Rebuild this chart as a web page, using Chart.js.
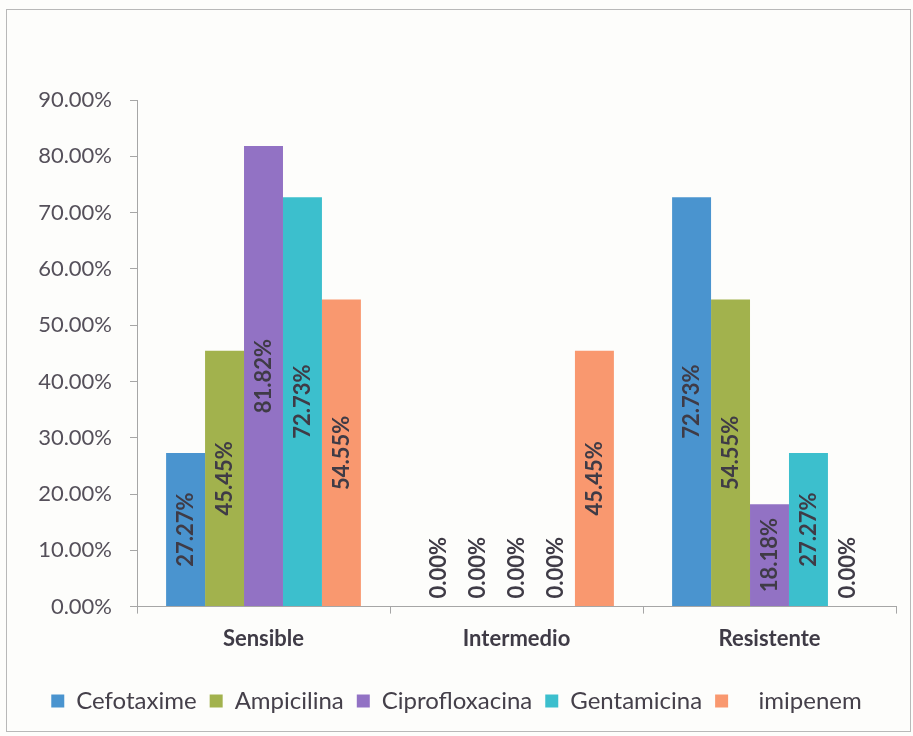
<!DOCTYPE html>
<html>
<head>
<meta charset="utf-8">
<script src="https://cdn.jsdelivr.net/npm/chart.js@4.4.1/dist/chart.umd.min.js"></script>
<style>
  body { margin: 0; background: #fdfdfb; }
  #wrap {
    position: absolute; left: 6px; top: 9px;
    width: 903px; height: 721px;
    border: 1px solid #b8b8b8;
    background: #fdfdfb;
  }
</style>
</head>
<body>
<div id="wrap"><canvas id="sensChart"></canvas></div>
<script>
// Susceptibilidad por antibiotico (%)
var categories = ['Sensible', 'Intermedio', 'Resistente'];
var cefotaxime = [27.27, 0, 72.73];
var ampicilina = [45.45, 0, 54.55];
var ciprofloxacina = [81.82, 0, 18.18];
var gentamicina = [72.73, 0, 27.27];
var imipenem = [54.55, 45.45, 0];
var yTicks = [0, 10, 20, 30, 40, 50, 60, 70, 80, 90];

var FONT = 'Lato, "Open Sans", sans-serif';

// rotated value labels inside each bar
var barLabels = {
    id: 'barLabels',
    afterDatasetsDraw: function(chart) {
        var ctx = chart.ctx;
        ctx.save();
        ctx.font = 'bold 22px ' + FONT;
        ctx.fillStyle = '#3f3b46';
        ctx.textBaseline = 'middle';
        chart.data.datasets.forEach(function(ds, i) {
            var meta = chart.getDatasetMeta(i);
            meta.data.forEach(function(bar, j) {
                var v = ds.data[j];
                var txt = v.toFixed(2) + '%';
                ctx.save();
                if (v > 0) {
                    ctx.translate(bar.x, (bar.y + bar.base) / 2);
                    ctx.rotate(-Math.PI / 2);
                    ctx.textAlign = 'center';
                    ctx.fillText(txt, 0, 0);
                } else {
                    ctx.translate(bar.x, bar.base - 8);
                    ctx.rotate(-Math.PI / 2);
                    ctx.textAlign = 'left';
                    ctx.fillText(txt, 0, 0);
                }
                ctx.restore();
            });
        });
        ctx.restore();
    }
};

var ctx = document.getElementById('sensChart').getContext('2d');
var sensChart = new Chart(ctx, {
    type: 'bar',
    data: {
        labels: categories,
        datasets: [
            { label: 'Cefotaxime', data: cefotaxime, backgroundColor: '#4a94cf' },
            { label: 'Ampicilina', data: ampicilina, backgroundColor: '#a2b24d' },
            { label: 'Ciprofloxacina', data: ciprofloxacina, backgroundColor: '#9272c4' },
            { label: 'Gentamicina', data: gentamicina, backgroundColor: '#3cbfcd' },
            { label: '   imipenem', data: imipenem, backgroundColor: '#f9986f' }
        ]
    },
    options: {
        responsive: true,
        maintainAspectRatio: false,
        animation: false,
        layout: { padding: { left: 10, right: 14, top: 90, bottom: 8 } },
        datasets: { bar: { categoryPercentage: 0.77, barPercentage: 1 } },
        plugins: {
            tooltip: { enabled: false },
            legend: {
                position: 'bottom',
                labels: {
                    boxWidth: 13, boxHeight: 13, padding: 13,
                    color: '#45404a',
                    font: { family: FONT, size: 24 }
                }
            }
        },
        scales: {
            x: {
                grid: { display: true, drawOnChartArea: false, tickLength: 7, color: '#a6a6a6' },
                border: { color: '#a6a6a6' },
                afterFit: function(scale) { scale.height += 12; },
                ticks: { color: '#3f3b46', padding: 12, font: { family: FONT, size: 22, weight: 'bold' } }
            },
            y: {
                min: 0, max: 90,
                afterBuildTicks: function(scale) {
                    scale.ticks = yTicks.map(function(v) { return { value: v }; });
                },
                afterFit: function(scale) { scale.width = 120; },
                grid: { display: true, drawOnChartArea: false, tickLength: 7, color: '#a6a6a6' },
                border: { color: '#a6a6a6' },
                ticks: {
                    color: '#55505a', padding: 18,
                    font: { family: FONT, size: 22 },
                    callback: function(v) { return v.toFixed(2) + '%'; }
                }
            }
        }
    },
    plugins: [barLabels]
});
</script>
</body>
</html>
